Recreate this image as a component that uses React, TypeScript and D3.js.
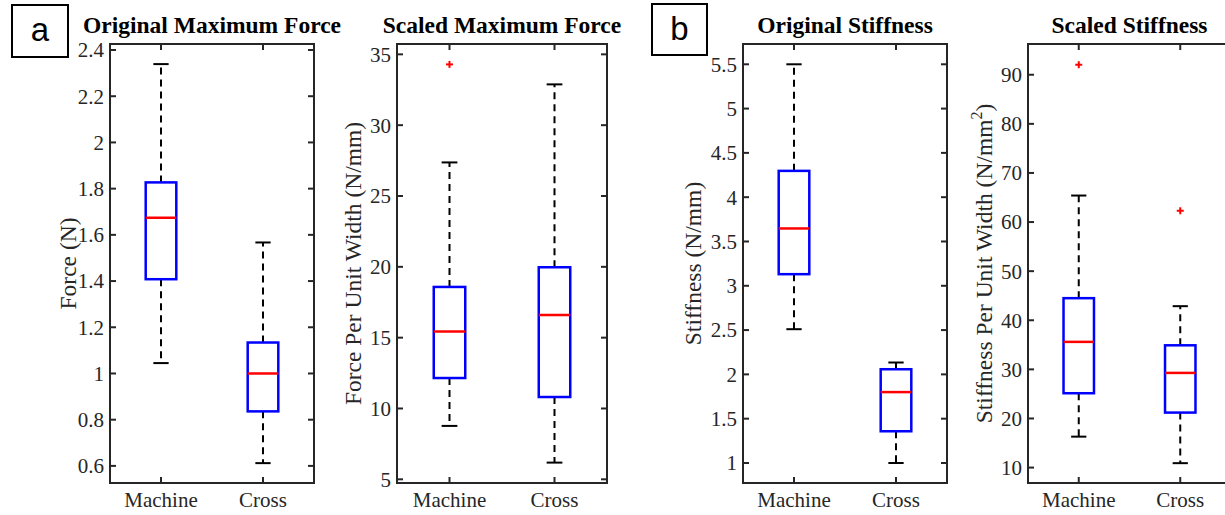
import React from "react";
import * as d3 from "d3";

// ---- data ----
const categories = ["Machine", "Cross"];

// [lower whisker, q1, median, q3, upper whisker]
const origForceMachine = [1.045, 1.408, 1.674, 1.827, 2.339];
const origForceCross = [0.612, 0.836, 1.0, 1.134, 1.567];
const origForceOutMachine: number[] = [];
const origForceOutCross: number[] = [];

const scaledForceMachine = [8.77, 12.15, 15.43, 18.58, 27.37];
const scaledForceCross = [6.18, 10.81, 16.6, 19.97, 32.88];
const scaledForceOutMachine = [34.29];
const scaledForceOutCross: number[] = [];

const origStiffMachine = [2.51, 3.131, 3.647, 4.297, 5.5];
const origStiffCross = [1.0, 1.358, 1.8, 2.058, 2.134];
const origStiffOutMachine: number[] = [];
const origStiffOutCross: number[] = [];

const scaledStiffMachine = [16.3, 25.14, 35.6, 44.5, 65.4];
const scaledStiffCross = [10.9, 21.2, 29.28, 34.9, 42.87];
const scaledStiffOutMachine = [92.04];
const scaledStiffOutCross = [62.3];

const ticksOrigForce = [0.6, 0.8, 1, 1.2, 1.4, 1.6, 1.8, 2, 2.2, 2.4];
const ticksScaledForce = [5, 10, 15, 20, 25, 30, 35];
const ticksOrigStiff = [1, 1.5, 2, 2.5, 3, 3.5, 4, 4.5, 5, 5.5];
const ticksScaledStiff = [10, 20, 30, 40, 50, 60, 70, 80, 90];

const titles = [
  "Original Maximum Force",
  "Scaled Maximum Force",
  "Original Stiffness",
  "Scaled Stiffness",
];

// ---- layout ----
const W = 1225;
const H = 515;
const TOP = 44;
const BOTTOM = 483;
const AXIS_COLOR = "#262626";
const SERIF = "'Liberation Serif', 'Times New Roman', serif";
const TICK_FS = 21;
const LABEL_FS = 23.5;
const TITLE_FS = 23.5;

type Panel = {
  title: string;
  left: number;
  right: number;
  ylim: [number, number];
  ticks: number[];
  stats: number[][];
  outliers: number[][];
  ylabel: React.ReactNode;
  ylabelX: number;
};

const panels: Panel[] = [
  {
    title: titles[0],
    left: 110,
    right: 314,
    ylim: [0.526, 2.426],
    ticks: ticksOrigForce,
    stats: [origForceMachine, origForceCross],
    outliers: [origForceOutMachine, origForceOutCross],
    ylabel: "Force (N)",
    ylabelX: 68,
  },
  {
    title: titles[1],
    left: 397,
    right: 607,
    ylim: [4.74, 35.73],
    ticks: ticksScaledForce,
    stats: [scaledForceMachine, scaledForceCross],
    outliers: [scaledForceOutMachine, scaledForceOutCross],
    ylabel: "Force Per Unit Width (N/mm)",
    ylabelX: 353,
  },
  {
    title: titles[2],
    left: 743,
    right: 947,
    ylim: [0.774, 5.729],
    ticks: ticksOrigStiff,
    stats: [origStiffMachine, origStiffCross],
    outliers: [origStiffOutMachine, origStiffOutCross],
    ylabel: "Stiffness (N/mm)",
    ylabelX: 693,
  },
  {
    title: titles[3],
    left: 1028,
    right: 1231,
    ylim: [6.86, 96.26],
    ticks: ticksScaledStiff,
    stats: [scaledStiffMachine, scaledStiffCross],
    outliers: [scaledStiffOutMachine, scaledStiffOutCross],
    ylabel: (
      <>
        Stiffness Per Unit Width (N/mm
        <tspan dy={-10} fontSize={16}>
          2
        </tspan>
        <tspan dy={10}>)</tspan>
      </>
    ),
    ylabelX: 984,
  },
];

function fmt(v: number) {
  return String(+v.toFixed(2));
}

function BoxPanel({ p }: { p: Panel }) {
  const x = d3.scaleLinear().domain([0.5, 2.5]).range([p.left, p.right]);
  const y = d3.scaleLinear().domain(p.ylim).range([BOTTOM, TOP]);
  const boxHalf = x(1.15) - x(1);
  const capHalf = boxHalf / 2;
  const tickLen = 6;
  const cx = (p.left + p.right) / 2;
  const cy = (TOP + BOTTOM) / 2;
  return (
    <g>
      <text
        x={cx}
        y={33}
        textAnchor="middle"
        fontFamily={SERIF}
        fontWeight="bold"
        fontSize={TITLE_FS}
        fill="#000"
      >
        {p.title}
      </text>
      {/* boxes */}
      {p.stats.map((s, i) => {
        const xc = x(i + 1);
        const [lw, q1, med, q3, uw] = s;
        return (
          <g key={i}>
            <line x1={xc} x2={xc} y1={y(q3)} y2={y(uw)} stroke="#000" strokeWidth={2} strokeDasharray="7,5" />
            <line x1={xc} x2={xc} y1={y(q1)} y2={y(lw)} stroke="#000" strokeWidth={2} strokeDasharray="7,5" />
            <line x1={xc - capHalf} x2={xc + capHalf} y1={y(uw)} y2={y(uw)} stroke="#000" strokeWidth={2} />
            <line x1={xc - capHalf} x2={xc + capHalf} y1={y(lw)} y2={y(lw)} stroke="#000" strokeWidth={2} />
            <rect
              x={xc - boxHalf}
              y={y(q3)}
              width={boxHalf * 2}
              height={y(q1) - y(q3)}
              fill="none"
              stroke="#0000ff"
              strokeWidth={2.5}
            />
            <line x1={xc - boxHalf} x2={xc + boxHalf} y1={y(med)} y2={y(med)} stroke="#ff0000" strokeWidth={2.5} />
            {p.outliers[i].map((o, j) => (
              <g key={j} stroke="#ff0000" strokeWidth={2}>
                <line x1={xc - 3.5} x2={xc + 3.5} y1={y(o)} y2={y(o)} />
                <line x1={xc} x2={xc} y1={y(o) - 3.5} y2={y(o) + 3.5} />
              </g>
            ))}
          </g>
        );
      })}
      {/* axes frame */}
      <rect
        x={p.left}
        y={TOP}
        width={p.right - p.left}
        height={BOTTOM - TOP}
        fill="none"
        stroke={AXIS_COLOR}
        strokeWidth={2}
      />
      {/* y ticks */}
      {p.ticks.map((t) => (
        <g key={t}>
          <line x1={p.left} x2={p.left + tickLen} y1={y(t)} y2={y(t)} stroke={AXIS_COLOR} strokeWidth={2} />
          <line x1={p.right} x2={p.right - tickLen} y1={y(t)} y2={y(t)} stroke={AXIS_COLOR} strokeWidth={2} />
          <text
            x={p.left - 6}
            y={y(t)}
            dy="0.35em"
            textAnchor="end"
            fontFamily={SERIF}
            fontSize={TICK_FS}
            fill={AXIS_COLOR}
          >
            {fmt(t)}
          </text>
        </g>
      ))}
      {/* x ticks */}
      {categories.map((c, i) => (
        <g key={c}>
          <line x1={x(i + 1)} x2={x(i + 1)} y1={BOTTOM} y2={BOTTOM - tickLen} stroke={AXIS_COLOR} strokeWidth={2} />
          <line x1={x(i + 1)} x2={x(i + 1)} y1={TOP} y2={TOP + tickLen} stroke={AXIS_COLOR} strokeWidth={2} />
          <text x={x(i + 1)} y={507} textAnchor="middle" fontFamily={SERIF} fontSize={TICK_FS} fill={AXIS_COLOR}>
            {c}
          </text>
        </g>
      ))}
      {/* y label */}
      <text
        transform={`translate(${p.ylabelX},${cy}) rotate(-90)`}
        textAnchor="middle"
        dy="0.35em"
        fontFamily={SERIF}
        fontSize={LABEL_FS}
        fill={AXIS_COLOR}
      >
        {p.ylabel}
      </text>
    </g>
  );
}

export default function App() {
  return (
    <svg
      width={W}
      height={H}
      viewBox={`0 0 ${W} ${H}`}
      style={{ position: "absolute", left: 0, top: 0, display: "block", background: "#fff" }}
    >
      <rect x={0} y={0} width={W} height={H} fill="#fff" />
      {panels.map((p, i) => (
        <BoxPanel key={i} p={p} />
      ))}
      {/* panel letters */}
      <rect x={12} y={5} width={56} height={52} fill="#fff" stroke="#000" strokeWidth={2} />
      <text x={40} y={41} textAnchor="middle" fontFamily="'Liberation Sans', Arial, sans-serif" fontSize={33} fill="#000">
        a
      </text>
      <rect x={652} y={4} width={55} height={51} fill="#fff" stroke="#000" strokeWidth={2} />
      <text x={679.5} y={40} textAnchor="middle" fontFamily="'Liberation Sans', Arial, sans-serif" fontSize={33} fill="#000">
        b
      </text>
    </svg>
  );
}
